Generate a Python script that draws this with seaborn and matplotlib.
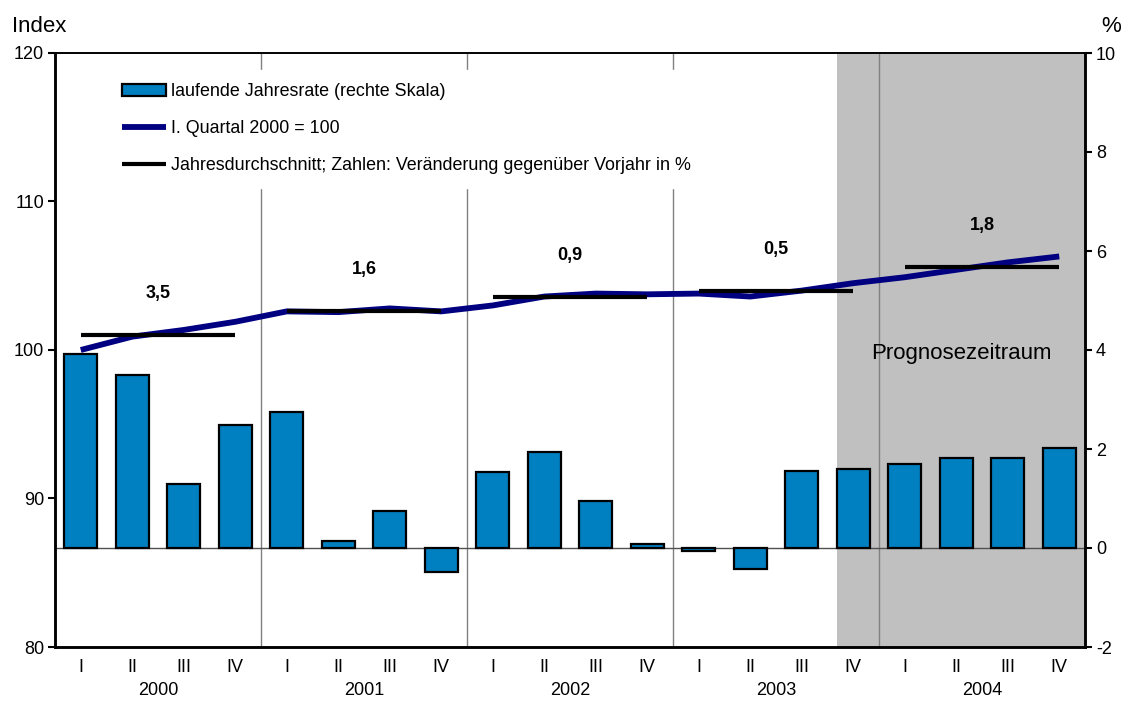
import matplotlib.pyplot as plt
import seaborn as sns
import pandas as pd
from matplotlib.patches import Patch
from matplotlib.lines import Line2D

# Daten
jahre = [2000, 2001, 2002, 2003, 2004]
quartale = ["I", "II", "III", "IV"]
jahresrate = [3.92, 3.49, 1.29, 2.48,
              2.75, 0.14, 0.75, -0.48,
              1.54, 1.94, 0.95, 0.08,
              -0.07, -0.42, 1.56, 1.60,
              1.70, 1.82, 1.82, 2.02]
index_werte = [100.0, 100.9, 101.35, 101.9,
               102.6, 102.55, 102.8, 102.6,
               103.0, 103.6, 103.8, 103.75,
               103.8, 103.6, 104.0, 104.5,
               104.9, 105.4, 105.9, 106.3]
jahresdurchschnitt = [101.0, 102.6, 103.55, 104.0, 105.6]
veraenderung = ["3,5", "1,6", "0,9", "0,5", "1,8"]
erstes_prognose_quartal = "2003-IV"

df = pd.DataFrame({
    "quartal": [f"{j}-{q}" for j in jahre for q in quartale],
    "roemisch": quartale * len(jahre),
    "rate": jahresrate,
    "index": index_werte,
})
df["pos"] = range(len(df))

sns.set_style("ticks")
plt.rcParams["font.family"] = ["Liberation Sans", "DejaVu Sans"]
plt.rcParams["axes.unicode_minus"] = False
plt.rcParams["text.color"] = "black"
plt.rcParams["xtick.color"] = "black"
plt.rcParams["ytick.color"] = "black"

fig = plt.figure(figsize=(11.24, 7.03), dpi=100)
ax = fig.add_axes([55 / 1124, 1 - 647 / 703, 1030 / 1124, 594 / 703])
ax2 = ax.twinx()
ax.set_zorder(ax2.get_zorder() + 1)
ax.patch.set_visible(False)

# Prognosezeitraum (grau hinterlegt)
p0 = df.index[df["quartal"] == erstes_prognose_quartal][0] - 0.32
ax2.axvspan(p0, len(df) - 0.5, color="#C0C0C0", zorder=0, lw=0)

# Jahrestrennlinien
for k in range(1, len(jahre)):
    ax2.axvline(4 * k - 0.5, color="#808080", lw=1, zorder=0.5)
ax2.axhline(0, color="#505050", lw=1, zorder=0.6)

# Balken: laufende Jahresrate (rechte Skala)
sns.barplot(data=df, x="quartal", y="rate", order=df["quartal"], ax=ax2,
            color="#0080C0", saturation=1, edgecolor="black", linewidth=1.6,
            width=0.64, zorder=2)

# Index-Linie
sns.lineplot(data=df, x="pos", y="index", ax=ax, color="#000080", lw=4.2,
             solid_capstyle="butt", zorder=3)

# Jahresdurchschnitte
for k, (avg, txt) in enumerate(zip(jahresdurchschnitt, veraenderung)):
    ax.hlines(avg, 4 * k, 4 * k + 3, color="black", lw=3, zorder=4)
    ax.text(4 * k + 1.5, avg + 2.8, txt, ha="center", va="center",
            fontsize=13, fontweight="bold", color="black")

ax.set_xlim(-0.5, len(df) - 0.5)
ax.set_ylim(80, 120)
ax2.set_ylim(-2, 10)
ax.set_yticks([80, 90, 100, 110, 120])
ax2.set_yticks([-2, 0, 2, 4, 6, 8, 10])
ax.set_xticks(df["pos"], labels=df["roemisch"])
ax.set_xlabel("")
ax.set_ylabel("")
ax2.set_xlabel("")
ax2.set_ylabel("")

ax.tick_params(axis="x", length=0, labelsize=13, pad=9, labelcolor="black")
ax.tick_params(axis="y", direction="out", length=5, width=1.5, labelsize=13,
               pad=3, colors="black")
ax2.tick_params(axis="y", direction="out", length=5, width=1.5, labelsize=13,
                pad=3, colors="black")

for a in (ax, ax2):
    for s in a.spines.values():
        s.set_color("black")
        s.set_linewidth(1.8)
    a.spines["top"].set_linewidth(1.2)

# Jahreszahlen
for k, j in enumerate(jahre):
    ax.text(4 * k + 1.5, -0.073, str(j), transform=ax.get_xaxis_transform(),
            ha="center", va="center", fontsize=13, color="black")

ax2.text((p0 + len(df) - 0.5) / 2, 3.82, "Prognosezeitraum", ha="center",
         va="baseline", fontsize=16, zorder=5, color="black")

fig.text(12 / 1124, 1 - 32 / 703, "Index", fontsize=16, va="baseline",
         color="black")
fig.text(1101 / 1124, 1 - 32 / 703, "%", fontsize=16, va="baseline",
         color="black")

handles = [
    Patch(facecolor="#0080C0", edgecolor="black", linewidth=1.6),
    Line2D([], [], color="#000080", lw=4.2, solid_capstyle="butt"),
    Line2D([], [], color="black", lw=3, solid_capstyle="butt"),
]
labels = [
    "laufende Jahresrate (rechte Skala)",
    "I. Quartal 2000 = 100",
    "Jahresdurchschnitt; Zahlen: Veränderung gegenüber Vorjahr in %",
]
leg = ax.legend(handles, labels, loc="upper left", bbox_to_anchor=(0.052, 0.972),
                borderaxespad=0, frameon=True, fancybox=False, fontsize=12.9,
                handlelength=2.45, handletextpad=0.3, labelspacing=1.12,
                borderpad=0.75, labelcolor="black")
leg.get_frame().set_edgecolor("white")
leg.get_frame().set_facecolor("white")
leg.get_frame().set_alpha(1)
leg.set_zorder(10)

plt.savefig("out.png", dpi=100)
